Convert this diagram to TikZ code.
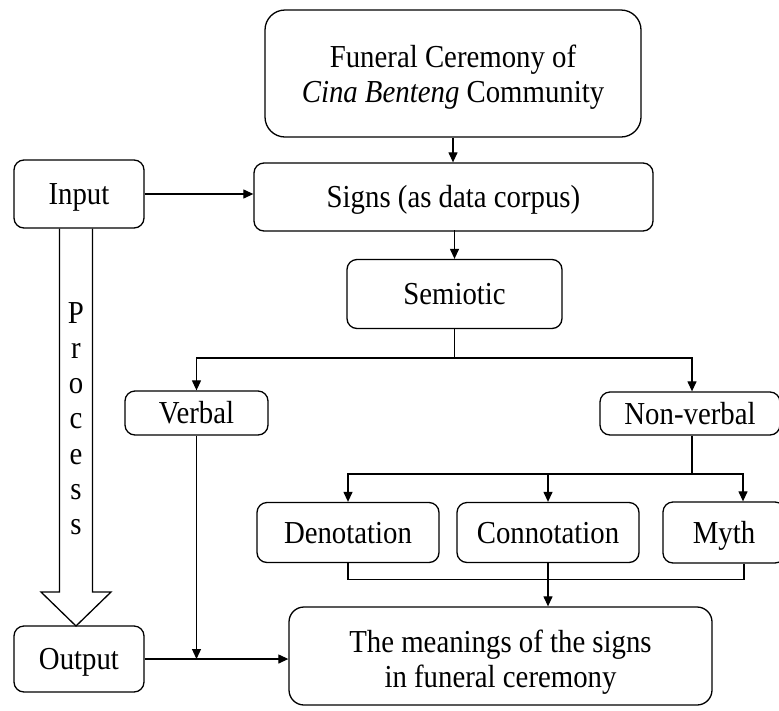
\documentclass[tikz,border=0pt]{standalone}
\usepackage{fontspec}
\setmainfont[FakeStretch=0.9]{Liberation Serif}
\usetikzlibrary{arrows.meta}
\begin{document}
\begin{tikzpicture}[x=1pt,y=-1pt,
  box/.style={draw, line width=1.3pt, rounded corners=10pt, align=center,
    font=\fontsize{32}{35}\selectfont, inner sep=0pt, text height=21pt, text depth=0pt},
  twoline/.style={text height=#1, text depth=0pt},
  conn/.style={line width=1.2pt},
  arr/.style={conn, -{Triangle[length=10pt,width=9pt]}},
  letter/.style={font=\fontsize{32}{35}\selectfont, anchor=base, inner sep=0pt}]
\useasboundingbox (0,0) rectangle (779,710);

\node[box, twoline=58pt, rounded corners=20pt, minimum width=376pt, minimum height=127pt] (top) at (453,73.5)
  {Funeral Ceremony of\\\textit{Cina Benteng} Community};
\node[box, minimum width=399pt, minimum height=68pt] (signs) at (453.5,197) {Signs (as data corpus)};
\node[box, minimum width=215pt, minimum height=69pt] (sem) at (454.5,294) {Semiotic};
\node[box, minimum width=143pt, minimum height=44pt] (verbal) at (196.5,413) {Verbal};
\node[box, minimum width=180pt, minimum height=43pt] (nonverbal) at (690,413.5) {Non-verbal};
\node[box, minimum width=182pt, minimum height=60pt] (den) at (348,532.5) {Denotation};
\node[box, minimum width=182pt, minimum height=60pt] (con) at (548,532.5) {Connotation};
\node[box, minimum width=122pt, minimum height=61pt] (myth) at (724,532.5) {Myth};
\node[box, minimum width=130pt, minimum height=68pt] (input) at (79,194) {Input};
\node[box, minimum width=130pt, minimum height=66pt] (output) at (79,659) {Output};
\node[box, twoline=63pt, rounded corners=15pt, minimum width=423pt, minimum height=98pt] (meanings) at (500.5,656)
  {The meanings of the signs\\in funeral ceremony};

% process arrow
\draw[line width=1.3pt, line join=miter] (input.south -| 59.5,0) -- (59.5,592) -- (41,592) -- (76,626)
  -- (111,592) -- (92.5,592) -- (input.south -| 92.5,0);
\foreach \c [count=\i] in {P,r,o,c,e,s,s} {
  \node[letter] (p\i) at (76,{323+(\i-1)*35.3}) {\c};
}

% connectors
\draw[arr] (top.south) -- (signs.north -| top.south);
\draw[arr] (input.east) -- (input.east -| signs.west);
\draw[arr] (signs.north -| sem.north) ++(0,68) -- (sem.north);
\coordinate (s1) at (454.5,358);
\draw[conn] (sem.south) -- (s1);
\draw[arr] (s1) -| (verbal.north);
\draw[arr] (s1) -| ([xshift=2pt]nonverbal.north);
\coordinate (n1) at (692,474);
\draw[conn] ([xshift=2pt]nonverbal.south) -- (n1);
\draw[arr] (n1) -| (den.north);
\draw[arr] (n1) -| (con.north);
\draw[arr] (n1) -| ([xshift=19pt]myth.north);
\draw[conn] (den.south) -- ++(0,16) -| ([xshift=20pt]myth.south);
\draw[arr] (con.south) -- (con.south |- meanings.north);
\coordinate (j1) at (verbal.south |- output.east);
\draw[arr] (verbal.south) -- (j1);
\draw[arr] (output.east) -- (output.east -| meanings.west);
\end{tikzpicture}
\end{document}
